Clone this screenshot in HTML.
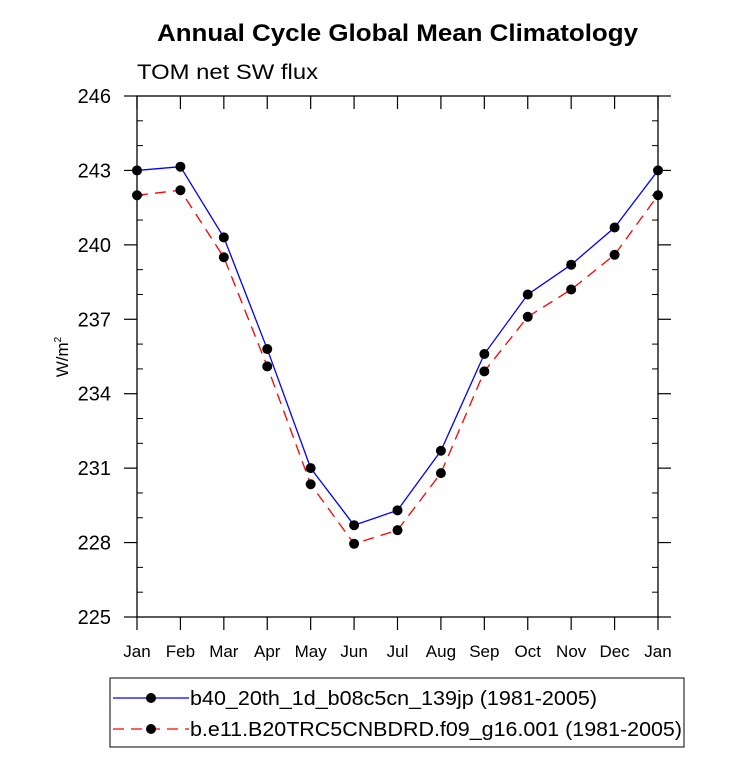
<!DOCTYPE html>
<html><head><meta charset="utf-8"><style>
body{margin:0;background:#fff}
svg text{font-family:"Liberation Sans",Arial,sans-serif}
</style></head><body>
<svg id="chart" width="733" height="768" xmlns="http://www.w3.org/2000/svg">
<text x="157" y="41" textLength="481" lengthAdjust="spacingAndGlyphs" font-size="24" font-weight="bold">Annual Cycle Global Mean Climatology</text>
<text x="137" y="79" textLength="181" lengthAdjust="spacingAndGlyphs" font-size="21">TOM net SW flux</text>
<text transform="translate(68,357) rotate(-90)" text-anchor="middle" font-size="17">W/m<tspan font-size="10" dy="-7">2</tspan></text>
<g id="axes"></g>
<g id="series"></g>
<rect x="110" y="678" width="574" height="69" fill="none" stroke="#000" stroke-width="1"/>
<g>
<line x1="113" y1="698" x2="189" y2="698" stroke="#0000ff" stroke-width="1.3"/>
<circle cx="151" cy="698" r="5" fill="#000"/>
<text x="190" y="705" font-size="20" textLength="407" lengthAdjust="spacingAndGlyphs">b40_20th_1d_b08c5cn_139jp (1981-2005)</text>
</g>
<g>
<line x1="113" y1="729" x2="189" y2="729" stroke="#ff0000" stroke-width="1.3" stroke-dasharray="11,7"/>
<circle cx="151" cy="729" r="5" fill="#000"/>
<text x="190" y="736" font-size="20" textLength="492" lengthAdjust="spacingAndGlyphs">b.e11.B20TRC5CNBDRD.f09_g16.001 (1981-2005)</text>
</g>
</svg>
<script>
const months=["Jan","Feb","Mar","Apr","May","Jun","Jul","Aug","Sep","Oct","Nov","Dec","Jan"];
const seriesB40=[243.0,243.15,240.3,235.8,231.0,228.7,229.3,231.7,235.6,238.0,239.2,240.7,243.0];
const seriesB20TR=[242.0,242.2,239.5,235.1,230.35,227.95,228.5,230.8,234.9,237.1,238.2,239.6,242.0];
const yTicks=[225,228,231,234,237,240,243,246];
const NS="http://www.w3.org/2000/svg";
const X0=137,X1=658,Y0=96,Y1=617,YMIN=225,YMAX=246;
const xs=i=>X0+(X1-X0)*i/(months.length-1);
const ys=v=>Y1-(v-YMIN)/(YMAX-YMIN)*(Y1-Y0);
function mk(tag,attrs,parent){const e=document.createElementNS(NS,tag);for(const k in attrs)e.setAttribute(k,attrs[k]);parent.appendChild(e);return e;}
const ax=document.getElementById('axes');
const frame=mk('rect',{x:X0,y:Y0,width:X1-X0,height:Y1-Y0,fill:'none',stroke:'#000','stroke-width':1.3},ax);


months.forEach((m,i)=>{
 const x=xs(i);
 mk('line',{x1:x,y1:Y1,x2:x,y2:Y1+13,stroke:'#000','stroke-width':1.2},ax);
 mk('line',{x1:x,y1:Y0,x2:x,y2:Y0+13,stroke:'#000','stroke-width':1.2},ax);
 const t=mk('text',{x:x,y:657,'text-anchor':'middle','font-size':17},ax);
 t.textContent=m;
 
 
});
for(let v=YMIN;v<=YMAX;v++){
 const y=ys(v);
 if((v-YMIN)%3===0){
  mk('line',{x1:X0-13,y1:y,x2:X0,y2:y,stroke:'#000','stroke-width':1.2},ax);
  mk('line',{x1:X1,y1:y,x2:X1+13,y2:y,stroke:'#000','stroke-width':1.2},ax);
 }else{
  mk('line',{x1:X0,y1:y,x2:X0+6,y2:y,stroke:'#000','stroke-width':1},ax);
  mk('line',{x1:X1-6,y1:y,x2:X1,y2:y,stroke:'#000','stroke-width':1},ax);
 }
}
yTicks.forEach(v=>{
 const t=mk('text',{x:111,y:ys(v)+7,'text-anchor':'end','font-size':20},ax);
 t.textContent=v;
 
 
});
const sg=document.getElementById('series');
function drawSeries(vals,color,dash,name){
 const g=mk('g',{},sg);
 
 
 const pl=mk('polyline',{points:vals.map((v,i)=>xs(i)+','+ys(v)).join(' '),fill:'none',stroke:color,'stroke-width':1.3},g);
 if(dash)pl.setAttribute('stroke-dasharray',dash);
 vals.forEach((v,i)=>{
  const c=mk('circle',{cx:xs(i),cy:ys(v),r:5,fill:'#000'},g);
  
  
 });
}
drawSeries(seriesB40,'#0000ff',null,'series-b40');
drawSeries(seriesB20TR,'#ff0000','11,7','series-b20trc5');
</script>
</body></html>
